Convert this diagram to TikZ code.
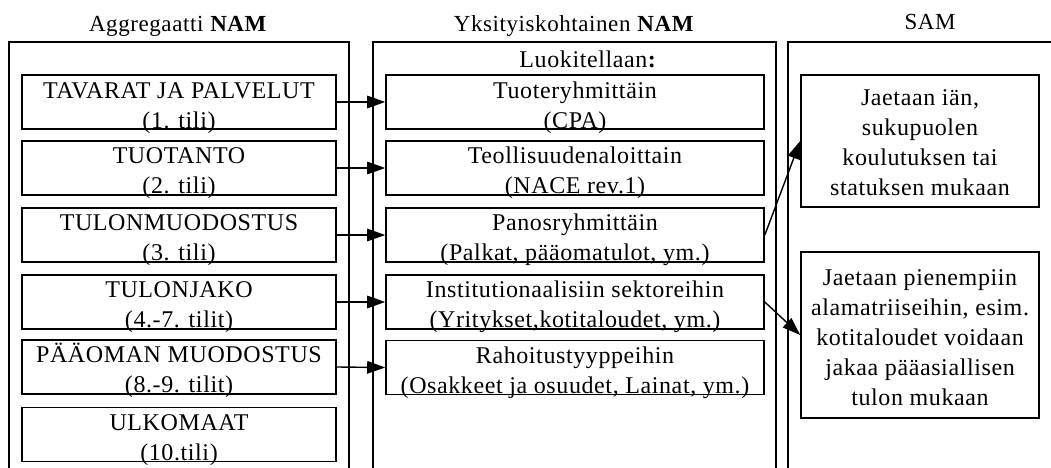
\documentclass[tikz,border=0pt]{standalone}
\usepackage{fontspec}
\setmainfont{Liberation Serif}[LetterSpace=2.5]
\usetikzlibrary{arrows.meta}
\begin{document}
\begin{tikzpicture}[x=1pt,y=-1pt,
  frame/.style={draw, line width=1.6pt},
  bx/.style={draw, line width=1.6pt, inner sep=0pt},
  lbox/.style={bx, minimum width=314pt, minimum height=54pt},
  mbox/.style={bx, minimum width=378pt, minimum height=54pt},
  txt/.style={inner sep=0pt, align=center, font=\fontsize{24}{30}\selectfont, anchor=north},
  ttl/.style={inner sep=0pt, font=\fontsize{23}{28}\selectfont, anchor=base},
  arr/.style={draw, line width=1.4pt, -{Triangle[length=18pt,width=12.5pt]}}]
\useasboundingbox[fill=white] (0,0) rectangle (1051,468);

% column frames (open at the bottom)
\draw[frame] (9,472) -- (9,42) -- (349,42) -- (349,472);
\draw[frame] (373,472) -- (373,42) -- (776,42) -- (776,472);
\draw[frame] (788,472) -- (788,42) -- (1056,42);

% titles
\node[ttl] (t1) at (178,32) {Aggregaatti \textbf{NAM}};
\node[ttl] (t2) at (574,32) {Yksityiskohtainen \textbf{NAM}};
\node[ttl] (t3) at (930,30) {SAM};
\node[ttl, font=\fontsize{24}{30}\selectfont] (lk) at (588,68) {Luokitellaan\textbf{:}};

% left boxes
\node[lbox] (a1) at (179,102) {};
\node[lbox] (a2) at (179,168) {};
\node[lbox] (a3) at (179,235) {};
\node[lbox] (a4) at (179,302) {};
\node[lbox] (a5) at (179,367) {};
\node[lbox] (a6) at (179,434.5) {};
\node[txt] (a1t) at (179,77) {\strut TAVARAT JA PALVELUT\\(1. tili)};
\node[txt] (a2t) at (179,142) {\strut TUOTANTO\\(2. tili)};
\node[txt] (a3t) at (179,209) {\strut TULONMUODOSTUS\\(3. tili)};
\node[txt] (a4t) at (179,276) {\strut TULONJAKO\\(4.-7. tilit)};
\node[txt] (a5t) at (179,341) {\strut PÄÄOMAN MUODOSTUS\\(8.-9. tilit)};
\node[txt] (a6t) at (179,409) {\strut ULKOMAAT\\(10.tili)};

% middle boxes
\node[mbox] (m1) at (575,102) {};
\node[mbox] (m2) at (575,168) {};
\node[mbox] (m3) at (575,235) {};
\node[mbox] (m4) at (575,302) {};
\node[mbox] (m5) at (575,367.5) {};
\node[txt] (m1t) at (575,77) {\strut Tuoteryhmittäin\\(CPA)};
\node[txt] (m2t) at (575,142) {\strut Teollisuudenaloittain\\(NACE rev.1)};
\node[txt] (m3t) at (575,209) {\strut Panosryhmittäin\\(Palkat, pääomatulot, ym.)};
\node[txt] (m4t) at (575,276) {\strut Institutionaalisiin sektoreihin\\(Yritykset,kotitaloudet, ym.)};
\node[txt] (m5t) at (575,342) {\strut Rahoitustyyppeihin\\(Osakkeet ja osuudet, Lainat, ym.)};

% SAM boxes
\node[bx, minimum width=238pt, minimum height=132pt] (s1) at (920,141) {};
\node[bx, minimum width=238pt, minimum height=166pt] (s2) at (920,335) {};
\node[txt] (s1t) at (920,84) {\strut Jaetaan iän,\\sukupuolen\\koulutuksen tai\\statuksen mukaan};
\node[txt] (s2t) at (920,264) {\strut Jaetaan pienempiin\\alamatriiseihin, esim.\\kotitaloudet voidaan\\jakaa pääasiallisen\\tulon mukaan};

% connectors
\draw[arr] (a1.east) -- (m1.west);
\draw[arr] (a2.east) -- (m2.west);
\draw[arr] (a3.east) -- (m3.west);
\draw[arr] (a4.east) -- (m4.west);
\draw[arr] (a5.east) -- (m5.west);
\draw[arr] (m3.east) -- (s1.west);
\draw[arr] (m4.east) -- (s2.west);
\end{tikzpicture}
\end{document}
